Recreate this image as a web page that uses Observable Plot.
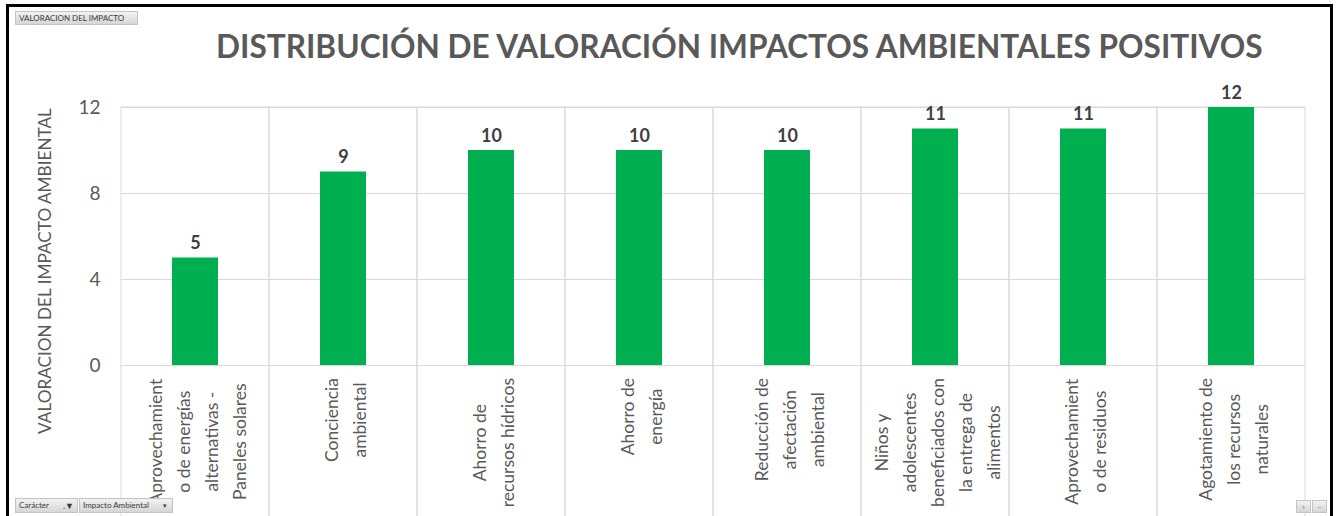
<!DOCTYPE html>
<html>
<head>
<meta charset="utf-8">
<script src="https://cdn.jsdelivr.net/npm/d3@7"></script>
<script src="https://cdn.jsdelivr.net/npm/@observablehq/plot@0.6"></script>
<style>
  html, body { margin: 0; padding: 0; background: #fff; }
  #wrap { position: relative; width: 1336px; height: 516px; overflow: hidden; background: #fff; font-family: Lato, "Open Sans", sans-serif; }
  #frame { position: absolute; left: 6px; top: 4px; width: 1321px; height: 600px; border: 3px solid #000; box-sizing: content-box; }
  #chart { position: absolute; left: 0; top: 0; }
  #title { position: absolute; left: 216px; top: 32px; white-space: nowrap; font-weight: 700; color: #595959; font-size: 28px; line-height: 28px; }
  #ytitle { position: absolute; left: 44px; top: 271px; width: 0; height: 0; }
  #ytitle span { position: absolute; left: 0; top: 0; transform: translate(-50%, -50%) rotate(-90deg); white-space: nowrap; font-size: 17.2px; color: #595959; }
  .btn { position: absolute; background: linear-gradient(#f2f2f2, #d6d6d6); border: 1px solid #c4c4c4; color: #3a3a3a; font-size: 8px; line-height: 13px; white-space: nowrap; box-sizing: border-box; padding: 0 3px; }
</style>
</head>
<body>
<div id="wrap">
  <div id="chart"></div>
  <div id="frame"></div>
  <div id="title"></div>
  <div id="ytitle"><span></span></div>
  <div class="btn" id="b1" style="left:15px; top:11px; width:123px; height:14px;"></div>
  <div class="btn" id="b2" style="left:15px; top:498px; width:63px; height:15px;"></div>
  <div class="btn" id="b3" style="left:79px; top:498px; width:94px; height:15px;"></div>
  <div class="btn" id="b4" style="left:1296px; top:500px; width:15px; height:13px; color:#9a9a9a; padding:0; text-align:center;"></div>
  <div class="btn" id="b5" style="left:1312px; top:500px; width:15px; height:13px; color:#9a9a9a; padding:0; text-align:center;"></div>
</div>
<script>
const titleText = "DISTRIBUCIÓN DE VALORACIÓN IMPACTOS AMBIENTALES POSITIVOS";
const yAxisTitle = "VALORACION DEL IMPACTO AMBIENTAL";
const categories = [
  "Aprovechamient\no de energías\nalternativas -\nPaneles solares",
  "Conciencia\nambiental",
  "Ahorro de\nrecursos hídricos",
  "Ahorro de\nenergía",
  "Reducción de\nafectación\nambiental",
  "Niños y\nadolescentes\nbeneficiados con\nla entrega de\nalimentos",
  "Aprovechamient\no de residuos",
  "Agotamiento de\nlos recursos\nnaturales"
];
const values = [5, 9, 10, 10, 10, 11, 11, 12];
const yTicks = [0, 4, 8, 12];
const buttonLabels = ["VALORACION DEL IMPACTO", "Carácter", "Impacto Ambiental"];

const data = categories.map((c, i) => ({cat: c, value: values[i]}));

const plot = Plot.plot({
  width: 1336,
  height: 516,
  marginLeft: 121,
  marginRight: 31,
  marginTop: 107,
  marginBottom: 151,
  style: {fontFamily: "Lato, 'Open Sans', sans-serif", background: "transparent", overflow: "hidden"},
  x: {type: "band", domain: categories, padding: 0, axis: null},
  y: {domain: [0, 12], axis: null},
  marks: [
    Plot.gridY(yTicks, {stroke: "#d9d9d9", strokeOpacity: 1}),
    Plot.barY(categories, {x: d => d, y1: 12, y2: -8, fill: "none", stroke: "#d9d9d9", strokeWidth: 1}),
    Plot.barY(data, {x: "cat", y: "value", fill: "#00B050", insetLeft: 51, insetRight: 51}),
    Plot.axisY(yTicks, {tickSize: 0, tickPadding: 21, fontSize: 19, fill: "#595959", label: null}),
    Plot.text(data, {x: "cat", y: "value", text: d => String(d.value), dy: -9, lineAnchor: "bottom", fontWeight: "bold", fontSize: 18, fill: "#404040"}),
    Plot.text(categories, {x: d => d, y: () => 0, text: d => d, rotate: -90, textAnchor: "middle", lineAnchor: "middle", lineHeight: 1.6, fontSize: 17.5, fill: "#595959"})
  ]
});
document.getElementById("chart").append(plot);

// top-align the rotated label blocks just below the axis, lines centred
const textGroups = plot.querySelectorAll('g[aria-label="text"]');
const labelGroup = textGroups[textGroups.length - 1];
const axisTop = 516 - 151 + 13;
const svgTop = plot.getBoundingClientRect().top;
Array.from(labelGroup.querySelectorAll("text")).forEach(t => {
  const r = t.getBoundingClientRect();
  const shift = axisTop - (r.top - svgTop);
  const g = document.createElementNS("http://www.w3.org/2000/svg", "g");
  g.setAttribute("transform", `translate(0,${shift})`);
  t.parentNode.insertBefore(g, t);
  g.appendChild(t);
});

// title fitted to the reference width
const tEl = document.getElementById("title");
tEl.textContent = titleText;
const w = tEl.getBoundingClientRect().width;
tEl.style.fontSize = (28 * 1047 / w) + "px";

document.querySelector("#ytitle span").textContent = yAxisTitle;
document.getElementById("b1").textContent = buttonLabels[0];
document.getElementById("b2").innerHTML = buttonLabels[1] + '<span style="position:absolute; right:3px; top:0; font-size:9px;">.▼</span>';
document.getElementById("b3").innerHTML = buttonLabels[2] + '<span style="position:absolute; right:5px; top:0; font-size:7px;">▾</span>';
document.getElementById("b4").textContent = "+";
document.getElementById("b5").textContent = "−";
</script>
</body>
</html>
